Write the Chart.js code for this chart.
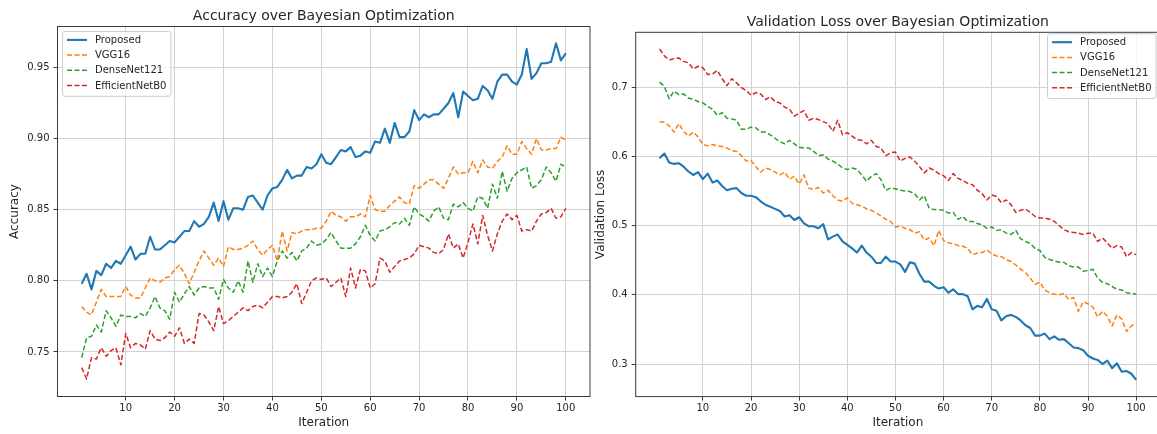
<!DOCTYPE html>
<html>
<head>
<meta charset="utf-8">
<script src="https://cdn.jsdelivr.net/npm/chart.js@4.4.1/dist/chart.umd.min.js"></script>
<style>
  html, body { margin: 0; padding: 0; width: 1157px; height: 434px; overflow: hidden; background: #fff; }
  canvas { position: absolute; top: 0; }
  #accChart { left: 0; }
  #lossChart { left: 590px; }
</style>
</head>
<body>
<canvas id="accChart" width="600" height="434"></canvas>
<canvas id="lossChart" width="580" height="434"></canvas>
<script>
// Bayesian optimisation runs: 100 iterations per model
const iterations = [1,2,3,4,5,6,7,8,9,10,11,12,13,14,15,16,17,18,19,20,
  21,22,23,24,25,26,27,28,29,30,31,32,33,34,35,36,37,38,39,40,
  41,42,43,44,45,46,47,48,49,50,51,52,53,54,55,56,57,58,59,60,
  61,62,63,64,65,66,67,68,69,70,71,72,73,74,75,76,77,78,79,80,
  81,82,83,84,85,86,87,88,89,90,91,92,93,94,95,96,97,98,99,100];

const modelNames = ['Proposed', 'VGG16', 'DenseNet121', 'EfficientNetB0'];

// accuracy per iteration
const accProposed = [0.798,0.805,0.794,0.807,0.804,0.812,0.809,0.814,0.812,0.818,
  0.824,0.815,0.819,0.819,0.831,0.822,0.822,0.825,0.828,0.827,
  0.831,0.835,0.835,0.842,0.838,0.840,0.845,0.855,0.842,0.856,
  0.843,0.851,0.851,0.850,0.859,0.860,0.855,0.850,0.860,0.865,
  0.866,0.871,0.878,0.872,0.874,0.874,0.880,0.879,0.882,0.889,
  0.883,0.882,0.887,0.892,0.891,0.894,0.887,0.888,0.891,0.890,
  0.898,0.897,0.907,0.897,0.911,0.901,0.901,0.905,0.920,0.913,
  0.917,0.915,0.917,0.917,0.921,0.925,0.932,0.915,0.933,0.930,
  0.927,0.928,0.937,0.934,0.928,0.940,0.945,0.945,0.940,0.938,
  0.945,0.963,0.942,0.946,0.953,0.953,0.954,0.967,0.955,0.960];
const accVgg = [0.782,0.778,0.776,0.785,0.794,0.789,0.789,0.789,0.789,0.796,
  0.790,0.788,0.788,0.795,0.802,0.800,0.799,0.802,0.803,0.808,
  0.811,0.805,0.798,0.806,0.814,0.821,0.816,0.811,0.816,0.810,
  0.824,0.822,0.822,0.823,0.825,0.828,0.822,0.818,0.822,0.825,
  0.814,0.835,0.821,0.834,0.833,0.835,0.836,0.836,0.837,0.837,
  0.842,0.849,0.846,0.845,0.842,0.845,0.845,0.847,0.845,0.860,
  0.850,0.849,0.849,0.853,0.856,0.859,0.855,0.854,0.867,0.865,
  0.868,0.871,0.871,0.868,0.865,0.872,0.880,0.875,0.876,0.876,
  0.884,0.876,0.885,0.880,0.879,0.884,0.887,0.895,0.889,0.889,
  0.898,0.893,0.889,0.900,0.892,0.892,0.893,0.893,0.901,0.899];
const accDense = [0.746,0.760,0.761,0.769,0.764,0.779,0.774,0.768,0.776,0.775,
  0.775,0.774,0.777,0.775,0.781,0.789,0.781,0.779,0.773,0.792,
  0.785,0.791,0.796,0.790,0.795,0.796,0.795,0.795,0.787,0.801,
  0.795,0.792,0.800,0.792,0.814,0.799,0.812,0.803,0.809,0.803,
  0.814,0.821,0.816,0.820,0.814,0.821,0.823,0.828,0.825,0.826,
  0.829,0.834,0.828,0.823,0.823,0.823,0.826,0.831,0.839,0.832,
  0.828,0.835,0.836,0.838,0.841,0.840,0.844,0.839,0.852,0.847,
  0.845,0.842,0.849,0.852,0.844,0.843,0.854,0.852,0.855,0.851,
  0.849,0.859,0.858,0.851,0.868,0.858,0.877,0.863,0.872,0.876,
  0.878,0.880,0.865,0.867,0.871,0.880,0.876,0.870,0.882,0.880];
const accEff = [0.739,0.731,0.746,0.745,0.753,0.747,0.751,0.753,0.741,0.763,
  0.753,0.756,0.755,0.752,0.765,0.759,0.758,0.760,0.764,0.761,
  0.767,0.756,0.759,0.756,0.777,0.776,0.771,0.765,0.782,0.770,
  0.772,0.775,0.778,0.781,0.779,0.782,0.783,0.781,0.785,0.789,
  0.789,0.788,0.789,0.792,0.798,0.784,0.792,0.800,0.802,0.801,
  0.802,0.796,0.799,0.802,0.789,0.809,0.795,0.808,0.807,0.795,
  0.798,0.816,0.814,0.806,0.810,0.814,0.815,0.816,0.819,0.825,
  0.824,0.823,0.820,0.819,0.822,0.833,0.823,0.826,0.816,0.827,
  0.840,0.826,0.846,0.832,0.821,0.833,0.842,0.847,0.843,0.846,
  0.835,0.836,0.835,0.842,0.847,0.848,0.851,0.844,0.845,0.851];

// validation loss per iteration
const lossProposed = [0.597,0.604,0.591,0.589,0.590,0.585,0.578,0.573,0.577,0.567,
  0.575,0.562,0.565,0.557,0.551,0.553,0.554,0.547,0.543,0.543,
  0.541,0.535,0.530,0.527,0.524,0.521,0.513,0.515,0.508,0.512,
  0.503,0.499,0.499,0.496,0.502,0.480,0.484,0.487,0.477,0.472,
  0.467,0.461,0.471,0.461,0.455,0.446,0.446,0.455,0.448,0.448,
  0.444,0.433,0.447,0.445,0.430,0.419,0.419,0.413,0.409,0.411,
  0.403,0.408,0.401,0.401,0.398,0.379,0.384,0.382,0.394,0.379,
  0.377,0.363,0.369,0.371,0.368,0.363,0.356,0.352,0.341,0.341,
  0.344,0.336,0.340,0.335,0.336,0.330,0.324,0.323,0.320,0.312,
  0.308,0.306,0.300,0.305,0.294,0.301,0.289,0.290,0.286,0.277];
const lossVgg = [0.650,0.649,0.644,0.635,0.647,0.636,0.629,0.635,0.628,0.617,
  0.615,0.617,0.615,0.614,0.612,0.608,0.607,0.601,0.593,0.594,
  0.585,0.577,0.583,0.581,0.577,0.573,0.577,0.567,0.571,0.560,
  0.573,0.554,0.552,0.555,0.547,0.551,0.543,0.537,0.535,0.540,
  0.532,0.530,0.528,0.524,0.522,0.518,0.514,0.509,0.506,0.498,
  0.499,0.496,0.494,0.489,0.491,0.479,0.482,0.471,0.493,0.478,
  0.475,0.474,0.471,0.470,0.467,0.458,0.460,0.461,0.465,0.459,
  0.456,0.455,0.451,0.448,0.443,0.437,0.432,0.424,0.415,0.418,
  0.407,0.403,0.401,0.400,0.402,0.393,0.396,0.376,0.390,0.387,
  0.382,0.368,0.376,0.369,0.355,0.371,0.365,0.347,0.355,0.359];
const lossDense = [0.707,0.701,0.683,0.694,0.689,0.690,0.684,0.682,0.679,0.677,
  0.672,0.668,0.659,0.663,0.655,0.654,0.652,0.639,0.639,0.642,
  0.641,0.635,0.635,0.631,0.626,0.621,0.618,0.623,0.618,0.613,
  0.612,0.612,0.607,0.601,0.602,0.596,0.593,0.589,0.583,0.581,
  0.583,0.581,0.573,0.564,0.571,0.575,0.566,0.551,0.554,0.553,
  0.551,0.550,0.549,0.546,0.537,0.543,0.525,0.523,0.523,0.522,
  0.518,0.519,0.509,0.513,0.506,0.506,0.503,0.501,0.496,0.498,
  0.493,0.494,0.489,0.487,0.493,0.481,0.477,0.474,0.467,0.464,
  0.454,0.451,0.449,0.447,0.447,0.442,0.440,0.440,0.434,0.435,
  0.437,0.424,0.418,0.416,0.412,0.408,0.407,0.403,0.402,0.401];
const lossEff = [0.755,0.745,0.739,0.741,0.742,0.737,0.735,0.726,0.730,0.728,
  0.718,0.719,0.724,0.712,0.702,0.712,0.706,0.699,0.695,0.688,
  0.692,0.690,0.682,0.686,0.679,0.677,0.671,0.668,0.658,0.662,
  0.666,0.652,0.655,0.653,0.650,0.647,0.636,0.652,0.631,0.634,
  0.629,0.624,0.623,0.618,0.623,0.614,0.612,0.601,0.605,0.606,
  0.593,0.597,0.599,0.593,0.585,0.576,0.583,0.580,0.575,0.572,
  0.565,0.575,0.568,0.565,0.561,0.559,0.551,0.546,0.537,0.544,
  0.542,0.533,0.537,0.530,0.519,0.522,0.524,0.519,0.513,0.511,
  0.511,0.509,0.506,0.500,0.494,0.491,0.490,0.489,0.487,0.489,
  0.489,0.477,0.482,0.475,0.467,0.471,0.469,0.455,0.461,0.458];

const iterTicks = [10, 20, 30, 40, 50, 60, 70, 80, 90, 100];
const accTicks = [0.75, 0.80, 0.85, 0.90, 0.95];
const lossTicks = [0.3, 0.4, 0.5, 0.6, 0.7];

const colors = ['#1f77b4', '#ff7f0e', '#2ca02c', '#d62728'];
const textColor = '#262626';
const font = 'DejaVu Sans';

Chart.defaults.font.family = font;
Chart.defaults.color = textColor;

function buildDatasets(series) {
  return series.map((vals, i) => ({
    label: modelNames[i],
    data: iterations.map((it, k) => ({ x: it, y: vals[k] })),
    borderColor: colors[i],
    backgroundColor: colors[i],
    borderWidth: i === 0 ? 2.1 : 1.5,
    borderDash: i === 0 ? [] : [5, 2.5],
    borderJoinStyle: 'round',
    pointRadius: 0,
    tension: 0,
    fill: false
  }));
}

// axes frame, title and an in-axes legend, drawn after the datasets
const decorations = {
  id: 'decorations',
  afterDraw(chart, args, opts) {
    const { ctx, chartArea: a } = chart;
    ctx.save();

    ctx.strokeStyle = '#3a3a3a';
    ctx.lineWidth = 1;
    ctx.strokeRect(a.left, a.top, a.right - a.left, a.bottom - a.top);

    ctx.fillStyle = textColor;
    ctx.font = '14px "' + font + '"';
    ctx.textAlign = 'center';
    ctx.textBaseline = 'alphabetic';
    ctx.fillText(opts.title, (a.left + a.right) / 2, opts.titleY);

    ctx.font = '10px "' + font + '"';
    const sets = chart.data.datasets;
    const textW = Math.max(...sets.map(d => ctx.measureText(d.label).width));
    const pad = 4.5, handle = 20, gap = 8, row = 15.2;
    const w = pad + handle + gap + textW + pad;
    const h = sets.length * row + 4;
    const x0 = opts.legendCorner === 'left' ? a.left + opts.legendDx : a.right - opts.legendDx - w;
    const y0 = a.top + opts.legendDy;

    ctx.beginPath();
    ctx.roundRect(x0, y0, w, h, 2.5);
    ctx.fillStyle = 'rgba(255,255,255,0.8)';
    ctx.fill();
    ctx.strokeStyle = '#cccccc';
    ctx.stroke();

    sets.forEach((d, i) => {
      const y = y0 + 8.4 + i * row;
      ctx.beginPath();
      ctx.setLineDash(d.borderDash);
      ctx.lineWidth = d.borderWidth;
      ctx.strokeStyle = d.borderColor;
      ctx.moveTo(x0 + pad, y);
      ctx.lineTo(x0 + pad + handle, y);
      ctx.stroke();
      ctx.setLineDash([]);
      ctx.fillStyle = textColor;
      ctx.textAlign = 'left';
      ctx.textBaseline = 'middle';
      ctx.fillText(d.label, x0 + pad + handle + gap, y + 0.5);
    });
    ctx.restore();
  }
};

function makeChart(id, cfg) {
  return new Chart(document.getElementById(id), {
    type: 'line',
    data: { datasets: buildDatasets(cfg.series) },
    plugins: [decorations],
    options: {
      responsive: false,
      animation: false,
      events: [],
      layout: { autoPadding: false, padding: { top: cfg.top, right: cfg.right, bottom: 0, left: 0 } },
      plugins: {
        legend: { display: false },
        tooltip: { enabled: false },
        decorations: {
          title: cfg.title, titleY: cfg.titleY,
          legendCorner: cfg.legendCorner, legendDx: cfg.legendDx, legendDy: cfg.legendDy
        }
      },
      scales: {
        x: {
          type: 'linear',
          min: -3.95, max: 104.95,
          afterBuildTicks: s => { s.ticks = iterTicks.map(v => ({ value: v })); },
          afterFit: s => { s.height = cfg.xHeight; },
          ticks: { autoSkip: false, maxRotation: 0, padding: 2, font: { size: 10 }, color: textColor,
                   callback: v => String(v) },
          grid: { color: '#d2d2d2', lineWidth: 1, tickLength: 4, tickColor: '#3a3a3a' },
          border: { display: false },
          title: { display: true, text: 'Iteration', font: { size: 12 }, color: textColor,
                   padding: { top: 0, bottom: 4 } }
        },
        y: {
          type: 'linear',
          min: cfg.yMin, max: cfg.yMax,
          afterBuildTicks: s => { s.ticks = cfg.yTicks.map(v => ({ value: v })); },
          afterFit: s => { s.width = cfg.yWidth; },
          ticks: { padding: 4, font: { size: 10 }, color: textColor,
                   callback: v => v.toFixed(cfg.decimals) },
          grid: { color: '#d2d2d2', lineWidth: 1, tickLength: 4, tickColor: '#3a3a3a' },
          border: { display: false },
          title: { display: true, text: cfg.yTitle, font: { size: 12 }, color: textColor,
                   padding: { top: cfg.yTitlePad, bottom: 0 } }
        }
      }
    }
  });
}

makeChart('accChart', {
  series: [accProposed, accVgg, accDense, accEff],
  title: 'Accuracy over Bayesian Optimization', titleY: 20,
  yTitle: 'Accuracy', yTitlePad: 8,
  yTicks: accTicks, decimals: 2,
  yMin: 0.7187, yMax: 0.9788,
  top: 26.5, right: 10, xHeight: 37.5, yWidth: 57.5,
  legendCorner: 'left', legendDx: 5, legendDy: 5
});

makeChart('lossChart', {
  series: [lossProposed, lossVgg, lossDense, lossEff],
  title: 'Validation Loss over Bayesian Optimization', titleY: 26,
  yTitle: 'Validation Loss', yTitlePad: 4,
  yTicks: lossTicks, decimals: 1,
  yMin: 0.253, yMax: 0.779,
  top: 32.3, right: 10, xHeight: 37.4, yWidth: 45.7,
  legendCorner: 'right', legendDx: 4, legendDy: 1.5
});
</script>
</body>
</html>
